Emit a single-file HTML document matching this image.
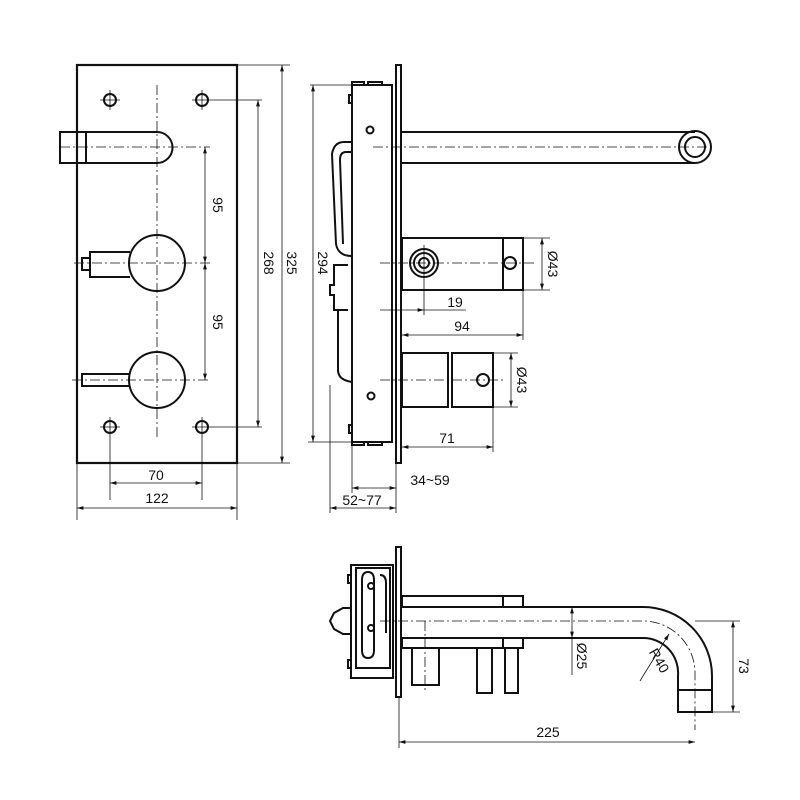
<!DOCTYPE html>
<html><head><style>body{margin:0;background:#fff}svg{display:block}text{font-family:"Liberation Sans",sans-serif;font-size:14px;fill:#111}</style></head>
<body>
<svg width="800" height="800" viewBox="0 0 800 800" xmlns="http://www.w3.org/2000/svg">
<defs><marker id="a" viewBox="0 0 10 6" refX="10" refY="3" markerWidth="8" markerHeight="5" orient="auto-start-reverse"><path d="M0,0L10,3L0,6z" fill="#111"/></marker></defs>
<g fill="none" stroke="#111">
<!-- FRONT VIEW -->
<rect x="77" y="65" width="160" height="398" stroke-width="2.2"/>
<g stroke-width="2">
<circle cx="110" cy="100" r="6"/><circle cx="202" cy="100" r="6"/><circle cx="110" cy="427" r="6"/><circle cx="202" cy="427" r="6"/>
<path d="M60,132H157A15.5,15.5 0 0 1 157,163H60Z"/><line x1="86" y1="132" x2="86" y2="163"/>
<circle cx="157" cy="263" r="28"/><circle cx="157" cy="380" r="28"/>
<path d="M130,252H90V277H130M90,258H82V270H90"/>
<path d="M130,374H82V386H130"/>
</g>
<g stroke-width="0.8">
<line x1="157" y1="85" x2="157" y2="440" stroke-dasharray="10,3,2,3"/>
<line x1="60" y1="147" x2="210" y2="147" stroke-dasharray="10,3,2,3"/>
<line x1="74" y1="263" x2="210" y2="263" stroke-dasharray="10,3,2,3"/>
<line x1="72" y1="380" x2="210" y2="380" stroke-dasharray="10,3,2,3"/>
<path d="M100,100h20M110,90v20M192,100h70M202,90v20M100,427h20M110,417v20M192,427h70M202,417v20"/>
<line x1="110" y1="437" x2="110" y2="500"/><line x1="202" y1="437" x2="202" y2="500"/>
<line x1="77" y1="463" x2="77" y2="520"/><line x1="237" y1="463" x2="237" y2="520"/>
<line x1="237" y1="65" x2="290" y2="65"/><line x1="237" y1="463" x2="290" y2="463"/>
<line x1="205" y1="147" x2="205" y2="263" marker-start="url(#a)" marker-end="url(#a)"/>
<line x1="205" y1="263" x2="205" y2="380" marker-start="url(#a)" marker-end="url(#a)"/>
<line x1="258" y1="100" x2="258" y2="427" marker-start="url(#a)" marker-end="url(#a)"/>
<line x1="282" y1="65" x2="282" y2="463" marker-start="url(#a)" marker-end="url(#a)"/>
<line x1="110" y1="483" x2="202" y2="483" marker-start="url(#a)" marker-end="url(#a)"/>
<line x1="77" y1="508" x2="237" y2="508" marker-start="url(#a)" marker-end="url(#a)"/>
</g>
<!-- SIDE VIEW -->
<g stroke-width="2">
<rect x="396" y="65" width="5" height="398"/>
<rect x="352" y="85" width="40" height="357"/>
<path d="M352,85v-3h12v3M368,85v-3h14v3M352,442v3h12v-3M368,442v3h14v-3"/>
<path d="M352,95h-3v8h3M352,425h-3v8h3"/>
<path d="M352,142h-8q-10,0-12,12l4,90q2,12,16,12M352,152h-6q-6,0-6,8l3,84"/>
<path d="M348,265h-14v20h-4v10h4v15h14M338,310v60q0,10,14,12"/>
<circle cx="370" cy="130" r="3.5"/><circle cx="371" cy="396" r="3.5"/>
<path d="M401,132H695M401,163H695"/>
<circle cx="695" cy="147" r="16"/><circle cx="695" cy="147" r="10"/>
<rect x="402" y="238" width="121" height="52"/><line x1="503" y1="238" x2="503" y2="290"/>
<circle cx="510" cy="263" r="6"/>
<circle cx="424" cy="263" r="14"/><circle cx="424" cy="263" r="10"/><circle cx="424" cy="263" r="5"/>
<rect x="402" y="353" width="46" height="54"/><rect x="452" y="353" width="41" height="54"/>
<circle cx="483" cy="380" r="6"/>
</g>
<g stroke-width="0.8">
<line x1="373" y1="147" x2="712" y2="147" stroke-dasharray="10,3,2,3"/>
<line x1="380" y1="263" x2="535" y2="263" stroke-dasharray="10,3,2,3"/>
<line x1="380" y1="380" x2="505" y2="380" stroke-dasharray="10,3,2,3"/>
<line x1="424" y1="245" x2="424" y2="315"/>
<line x1="310" y1="85" x2="352" y2="85"/><line x1="308" y1="442" x2="352" y2="442"/>
<line x1="313" y1="85" x2="313" y2="442" marker-start="url(#a)" marker-end="url(#a)"/>
<line x1="523" y1="238" x2="550" y2="238"/><line x1="523" y1="290" x2="550" y2="290"/>
<line x1="542" y1="238" x2="542" y2="290" marker-start="url(#a)" marker-end="url(#a)"/>
<line x1="493" y1="353" x2="518" y2="353"/><line x1="493" y1="407" x2="518" y2="407"/>
<line x1="511" y1="353" x2="511" y2="407" marker-start="url(#a)" marker-end="url(#a)"/>
<line x1="380" y1="310" x2="424" y2="310" marker-end="url(#a)"/><line x1="424" y1="310" x2="466" y2="310"/>
<line x1="523" y1="290" x2="523" y2="340"/>
<line x1="402" y1="335" x2="523" y2="335" marker-start="url(#a)" marker-end="url(#a)"/>
<line x1="493" y1="407" x2="493" y2="452"/>
<line x1="402" y1="447" x2="493" y2="447" marker-start="url(#a)" marker-end="url(#a)"/>
<line x1="352" y1="442" x2="352" y2="493"/><line x1="330" y1="385" x2="330" y2="513"/><line x1="396" y1="463" x2="396" y2="513"/>
<line x1="352" y1="488" x2="396" y2="488" marker-start="url(#a)" marker-end="url(#a)"/>
<line x1="330" y1="508" x2="396" y2="508" marker-start="url(#a)" marker-end="url(#a)"/>
</g>
<!-- BOTTOM VIEW -->
<g stroke-width="2">
<rect x="396" y="547" width="5" height="150"/>
<rect x="351" y="565" width="42" height="113"/>
<path d="M356,568h34v100h-34zM368,572q-6,0-6,8v30M368,572q6,0,6,8v70q0,8-6,8q-6,0-6-8v-40"/>
<path d="M380,575q6,0,6,8v50"/>
<circle cx="371" cy="586" r="3"/><circle cx="371" cy="628" r="3"/>
<path d="M351,608h-8l-9,5l-4,8l4,8l9,5h8"/>
<path d="M351,575h-3v8h3M351,660h-3v8h3"/>
<rect x="402" y="596" width="121" height="11"/><line x1="503" y1="596" x2="503" y2="607"/>
<rect x="402" y="638" width="121" height="10"/><line x1="503" y1="638" x2="503" y2="648"/>
<path d="M401,607H643A69,69 0 0 1 712,676V712H678V676A35,35 0 0 0 643,638H401"/>
<line x1="678" y1="690" x2="712" y2="690"/>
<path d="M412,648v37h27v-37"/><rect x="477" y="648" width="15" height="45"/><rect x="505" y="648" width="13" height="45"/>
</g>
<g stroke-width="0.8">
<path d="M380,621H643A52,52 0 0 1 695,673V730" stroke-dasharray="10,3,2,3"/>
<line x1="695" y1="621" x2="740" y2="621"/><line x1="712" y1="712" x2="740" y2="712"/>
<line x1="733" y1="621" x2="733" y2="712" marker-start="url(#a)" marker-end="url(#a)"/>
<line x1="425" y1="621" x2="425" y2="690" stroke-dasharray="10,3,2,3"/>
<line x1="572" y1="607" x2="572" y2="638" marker-start="url(#a)" marker-end="url(#a)"/><line x1="572" y1="638" x2="572" y2="675"/>
<line x1="643" y1="676" x2="669" y2="634" marker-end="url(#a)"/><line x1="643" y1="676" x2="640" y2="681"/>
<line x1="399" y1="697" x2="399" y2="748"/>
<line x1="399" y1="742" x2="695" y2="742" marker-start="url(#a)" marker-end="url(#a)"/>
</g>
</g>
<g>
<text x="213" y="205" transform="rotate(90 213 205)" text-anchor="middle">95</text>
<text x="213" y="322" transform="rotate(90 213 322)" text-anchor="middle">95</text>
<text x="264" y="263" transform="rotate(90 264 263)" text-anchor="middle">268</text>
<text x="287" y="263" transform="rotate(90 287 263)" text-anchor="middle">325</text>
<text x="156" y="480" text-anchor="middle">70</text>
<text x="157" y="503" text-anchor="middle">122</text>
<text x="318" y="263" transform="rotate(90 318 263)" text-anchor="middle">294</text>
<text x="548" y="264" transform="rotate(90 548 264)" text-anchor="middle">Ø43</text>
<text x="517" y="380" transform="rotate(90 517 380)" text-anchor="middle">Ø43</text>
<text x="455" y="307" text-anchor="middle">19</text>
<text x="462" y="331" text-anchor="middle">94</text>
<text x="447" y="443" text-anchor="middle">71</text>
<text x="430" y="485" text-anchor="middle">34~59</text>
<text x="362" y="505" text-anchor="middle">52~77</text>
<text x="577" y="656" transform="rotate(90 577 656)" text-anchor="middle">Ø25</text>
<text x="739" y="666" transform="rotate(90 739 666)" text-anchor="middle">73</text>
<text x="655" y="663" transform="rotate(60 655 663)" text-anchor="middle">R40</text>
<text x="548" y="737" text-anchor="middle">225</text>
</g>
</svg>
</body></html>
